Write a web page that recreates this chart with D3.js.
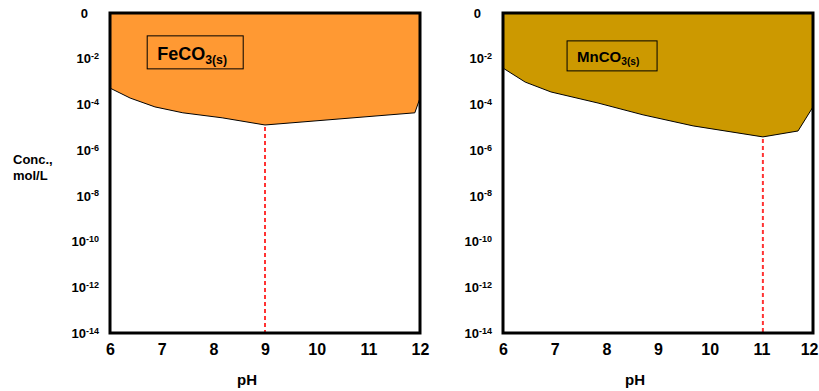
<!DOCTYPE html>
<html>
<head>
<meta charset="utf-8">
<script src="https://cdn.jsdelivr.net/npm/d3@7"></script>
<style>
  body { margin: 0; background: #fff; }
  text { font-family: "Liberation Sans", Arial, sans-serif; font-weight: bold; fill: #000; }
</style>
</head>
<body>
<script>
const W = 819, H = 391;

// pH ticks and concentration ticks (exponent of 10; 0 is drawn as "0")
const phTicks = [6, 7, 8, 9, 10, 11, 12];
const concExp = [0, -2, -4, -6, -8, -10, -12, -14];

// solubility boundary, FeCO3(s)
const fePH   = [6, 6.39, 6.87, 7.41, 8.17, 9.0, 11.9, 12];
const feConc = [5.2e-4, 1.9e-4, 7.8e-5, 4.3e-5, 2.6e-5, 1.26e-5, 4.3e-5, 1.9e-4];
const feMinPH = 9.0;

// solubility boundary, MnCO3(s)
const mnPH   = [6, 6.43, 6.93, 7.84, 8.71, 9.68, 11.03, 11.71, 12];
const mnConc = [3.9e-3, 9.5e-4, 3.5e-4, 1.15e-4, 3.5e-5, 1.15e-5, 3.8e-6, 6.9e-6, 7.8e-5];
const mnMinPH = 11.03;

const svg = d3.select('body').append('svg')
    .attr('width', W)
    .attr('height', H);

const drawPanel = (opt) => {
    const x = d3.scaleLinear().domain([6, 12]).range([opt.left, opt.left + 310]);
    const y = d3.scaleLog().domain([1, 1e-14]).range([13, 333]);
    const pts = opt.ph.map((p, i) => ({ph: p, c: opt.conc[i]}));

    const g = svg.append('g');

    // solid region above the boundary
    const area = d3.area()
        .x(d => x(d.ph))
        .y0(y(1))
        .y1(d => y(d.c));
    g.append('path')
        .datum(pts)
        .attr('d', area)
        .attr('fill', opt.color);

    g.append('path')
        .datum(pts)
        .attr('d', d3.line().x(d => x(d.ph)).y(d => y(d.c)))
        .attr('fill', 'none')
        .attr('stroke', '#000')
        .attr('stroke-width', 1);

    // dashed line at the minimum
    const minC = pts.find(d => d.ph === opt.minPH).c;
    g.append('line')
        .attr('x1', x(opt.minPH)).attr('x2', x(opt.minPH))
        .attr('y1', y(minC) + 2).attr('y2', y(1e-14))
        .attr('stroke', '#ff3333')
        .attr('stroke-width', 2)
        .attr('stroke-dasharray', '4,3');

    // frame
    g.append('rect')
        .attr('x', x(6)).attr('y', y(1))
        .attr('width', x(12) - x(6))
        .attr('height', y(1e-14) - y(1))
        .attr('fill', 'none')
        .attr('stroke', '#000')
        .attr('stroke-width', 3);

    // x axis
    const xAxis = d3.axisBottom(x)
        .tickValues(phTicks)
        .tickFormat(d3.format('d'))
        .tickSize(0)
        .tickPadding(11);
    const gx = g.append('g')
        .attr('transform', 'translate(0,' + y(1e-14) + ')')
        .call(xAxis);
    gx.select('.domain').remove();
    gx.selectAll('text')
        .style('font-size', '16px')
        .style('font-family', '"Liberation Sans", Arial, sans-serif')
        .style('font-weight', 'bold');
    if (opt.lastEnd) {
        // keep the last label inside the page
        gx.selectAll('.tick').filter(d => d === 12).select('text')
            .attr('text-anchor', 'end')
            .attr('x', opt.lastEnd);
    }

    // y axis with superscripts
    const yAxis = d3.axisLeft(y)
        .tickValues(concExp.map(e => Math.pow(10, e)))
        .tickSize(0)
        .tickPadding(11);
    const gy = g.append('g')
        .attr('transform', 'translate(' + x(6) + ',0)')
        .call(yAxis);
    gy.select('.domain').remove();
    gy.selectAll('.tick text')
        .style('font-size', '13px')
        .style('font-family', '"Liberation Sans", Arial, sans-serif')
        .style('font-weight', 'bold')
        .each(function(d, i) {
            const t = d3.select(this).text('');
            const e = concExp[i];
            if (e === 0) {
                t.attr('x', -22).append('tspan').text('0');
            } else {
                t.append('tspan').text('10');
                t.append('tspan')
                    .attr('dy', '-0.45em')
                    .style('font-size', '9px')
                    .text(e);
            }
        });

    // x label
    g.append('text')
        .attr('x', (x(6) + x(12)) / 2 + opt.pHdx)
        .attr('y', 385)
        .attr('text-anchor', 'middle')
        .style('font-size', '15px')
        .text('pH');

    // phase label box
    g.append('rect')
        .attr('x', x(opt.box[0])).attr('y', y(opt.box[1]))
        .attr('width', opt.box[2]).attr('height', opt.box[3])
        .attr('fill', 'none')
        .attr('stroke', '#000')
        .attr('stroke-width', 1);
    const lbl = g.append('text')
        .attr('x', x(opt.box[0]) + opt.textDx)
        .attr('y', y(opt.box[1]) + opt.textDy)
        .style('font-size', opt.fs + 'px');
    lbl.append('tspan').text(opt.name);
    lbl.append('tspan')
        .attr('dy', '0.35em')
        .style('font-size', (opt.fs * 0.68) + 'px')
        .text('3(s)');
};

drawPanel({
    left: 110, ph: fePH, conc: feConc, minPH: feMinPH, color: '#ff9933',
    box: [6.72, Math.pow(10, -1.0), 96, 33], name: 'FeCO', fs: 18,
    textDx: 10, textDy: 24, pHdx: -18
});

drawPanel({
    left: 503, ph: mnPH, conc: mnConc, minPH: mnMinPH, color: '#cc9900',
    box: [7.24, Math.pow(10, -1.22), 90, 30], name: 'MnCO', fs: 15,
    textDx: 10, textDy: 21, pHdx: -23, lastEnd: 5
});

// shared y label
svg.append('text')
    .attr('x', 13).attr('y', 164)
    .style('font-size', '13px')
    .text('Conc.,');
svg.append('text')
    .attr('x', 13).attr('y', 180)
    .style('font-size', '13px')
    .text('mol/L');
</script>
</body>
</html>
